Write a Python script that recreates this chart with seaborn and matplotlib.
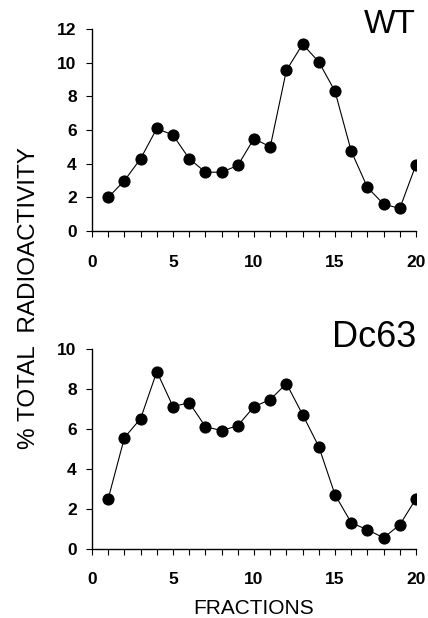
import matplotlib
matplotlib.use("Agg")
import matplotlib.pyplot as plt
from matplotlib.ticker import MultipleLocator
import seaborn as sns
import pandas as pd

fractions = list(range(1, 21))
wt_values = [2.0, 3.0, 4.3, 6.1, 5.7, 4.3, 3.5, 3.5, 3.9, 5.5,
             5.0, 9.55, 11.1, 10.05, 8.3, 4.75, 2.6, 1.6, 1.35, 3.95]
dc63_values = [2.5, 5.55, 6.5, 8.85, 7.1, 7.3, 6.1, 5.9, 6.15, 7.1,
               7.45, 8.25, 6.7, 5.1, 2.7, 1.3, 0.95, 0.55, 1.2, 2.5]
x_ticks = [0, 5, 10, 15, 20]
wt_yticks = [0, 2, 4, 6, 8, 10, 12]
dc63_yticks = [0, 2, 4, 6, 8, 10]
panel_names = ["WT", "Dc63"]

sns.set_theme(style="ticks")
plt.rcParams["font.family"] = ["Liberation Sans", "DejaVu Sans"]
for key in ("text.color", "axes.labelcolor", "xtick.color", "ytick.color",
            "axes.edgecolor"):
    plt.rcParams[key] = "black"

fig = plt.figure(figsize=(4.28, 6.18), dpi=100)
ax_top = fig.add_axes([0.215, 0.626, 0.757, 0.327])
ax_bot = fig.add_axes([0.215, 0.112, 0.757, 0.324])

panels = [
    (ax_top, wt_values, wt_yticks, panel_names[0], 1.10, 24),
    (ax_bot, dc63_values, dc63_yticks, panel_names[1], 1.145, 26),
]

for ax, vals, yt, name, name_y, name_size in panels:
    df = pd.DataFrame({"fraction": fractions, "value": vals})
    sns.lineplot(data=df, x="fraction", y="value", ax=ax, color="black",
                 linewidth=0.8, marker="o", markersize=8,
                 markerfacecolor="black", markeredgecolor="black")
    ax.set_xlim(0, 20)
    ax.set_ylim(0, yt[-1])
    ax.set_xticks(x_ticks)
    ax.xaxis.set_minor_locator(MultipleLocator(1))
    ax.set_yticks(yt)
    ax.set_xlabel("")
    ax.set_ylabel("")
    for side in ("top", "right"):
        ax.spines[side].set_visible(False)
    for side in ("left", "bottom"):
        ax.spines[side].set_linewidth(1.0)
    ax.tick_params(axis="y", which="major", direction="out", length=4,
                   width=0.8, pad=7, labelsize=12.5)
    ax.tick_params(axis="x", which="both", direction="out", length=4,
                   width=0.8, pad=13, labelsize=12.5)
    for lbl in ax.get_xticklabels() + ax.get_yticklabels():
        lbl.set_fontweight("bold")
    ax.text(1.0, name_y, name, transform=ax.transAxes, ha="right",
            va="top", fontsize=name_size)

fig.text(0.068, 0.518, "% TOTAL  RADIOACTIVITY", rotation=90,
         ha="center", va="center", fontsize=17.5)
ax_bot.set_xlabel("FRACTIONS", fontsize=15, labelpad=8)

fig.savefig("out.png", dpi=100)
